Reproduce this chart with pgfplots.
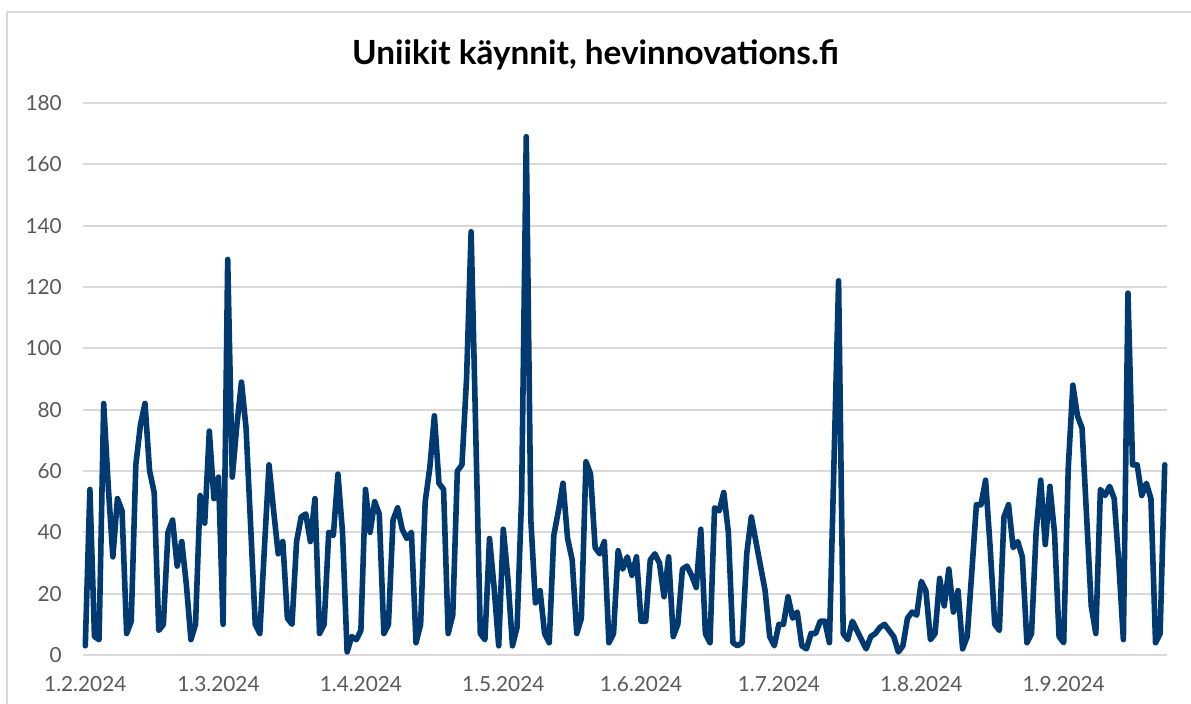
\documentclass[border=0pt]{standalone}
\usepackage{fontspec}
\setmainfont{Lato}
\usepackage{pgfplots}
\pgfplotsset{compat=1.18}
\definecolor{navy}{HTML}{003A70}
\definecolor{gridc}{HTML}{D9D9D9}
\definecolor{tickc}{HTML}{595959}
\begin{document}
\begin{tikzpicture}[x=1bp,y=1bp]
\useasboundingbox (0,0) rectangle (1191,704);
\fill[white] (0,0) rectangle (1191,704);
\draw[gridc, line width=1.5bp] (7,-10) -- (7,692) -- (1210,692);
\node[anchor=base, font=\fontsize{33.3bp}{38bp}\selectfont\bfseries, text=black, inner sep=0pt] at (595.5,639) {Uniikit käynnit, hevinnovations.fi};
\begin{axis}[
  at={(83bp,49bp)}, anchor=south west, scale only axis,
  width=1084bp, height=552bp,
  xmin=-0.5, xmax=235.5, ymin=0, ymax=180,
  ytick={0,20,...,180},
  xtick={0,29,60,91,121,151,182,213},
  xticklabels={1.2.2024,1.3.2024,1.4.2024,1.5.2024,1.6.2024,1.7.2024,1.8.2024,1.9.2024},
  ymajorgrids, grid style={gridc, line width=1.8bp},
  axis line style={draw=none}, major tick length=0pt,
  tick label style={font=\fontsize{20.8bp}{24bp}\selectfont, text=tickc},
  yticklabel style={anchor=east, inner sep=0pt, xshift=-21bp},
  xticklabel style={anchor=north, inner sep=0pt, yshift=-21bp},
  /pgf/number format/assume math mode=true,
  clip=false,
]
\addplot[navy, line width=5.6bp, line join=round, line cap=round, mark=none]
  table[header=false, x expr=\coordindex, y index=0] {
3
54
6
5
82
55
32
51
47
7
11
62
75
82
60
53
8
10
40
44
29
37
23
5
10
52
43
73
51
58
10
129
58
75
89
74
42
10
7
35
62
47
33
37
12
10
37
45
46
37
51
7
10
40
39
59
40
1
6
5
8
54
40
50
46
7
10
44
48
41
38
40
4
10
50
61
78
56
54
7
13
60
62
90
138
73
7
5
38
22
3
41
25
3
9
52
169
44
17
21
7
4
39
47
56
38
31
7
12
63
59
35
33
37
4
7
34
28
32
26
32
11
11
31
33
30
19
32
6
10
28
29
26
22
41
7
4
48
47
53
40
4
3
4
33
45
37
29
21
6
3
10
10
19
12
14
3
2
7
7
11
11
4
63
122
7
5
11
8
5
2
6
7
9
10
8
6
1
3
12
14
13
24
21
5
7
25
16
28
14
21
2
6
27
49
49
57
35
10
8
45
49
35
37
32
4
7
40
57
36
55
40
6
4
61
88
78
74
45
16
7
54
52
55
51
30
5
118
62
62
52
56
51
4
7
62
};
\end{axis}
\end{tikzpicture}
\end{document}
